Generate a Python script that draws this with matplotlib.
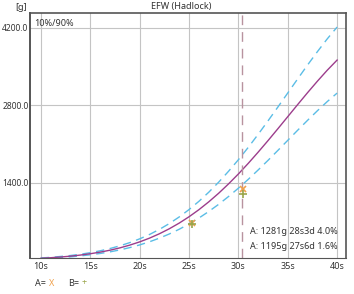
import matplotlib
matplotlib.use("Agg")
import matplotlib.pyplot as plt

plt.rcParams["font.family"] = ["Noto Sans", "DejaVu Sans"]

# gestational age (weeks) and Hadlock EFW curves [g]
weeks = list(range(10, 41))
p50 = [35, 45, 58, 73, 93, 117, 146, 181, 223, 273, 331, 399, 478, 568, 670, 785,
       913, 1055, 1210, 1379, 1559, 1751, 1953, 2162, 2377, 2595, 2813, 3028, 3236,
       3435, 3619]
p90 = [41, 52, 68, 85, 108, 136, 170, 211, 260, 318, 386, 465, 557, 662, 781, 915,
       1064, 1229, 1410, 1607, 1816, 2040, 2275, 2519, 2769, 3023, 3277, 3528, 3770,
       4002, 4216]
p10 = [29, 38, 48, 61, 78, 98, 122, 151, 186, 228, 276, 333, 399, 474, 559, 655,
       762, 881, 1010, 1151, 1302, 1462, 1631, 1805, 1985, 2167, 2349, 2528, 2702,
       2868, 3022]

exam_ga = 30.35
a_x = [25.3, 30.45]
a_y = [675, 1281]
b_x = [25.3, 30.45]
b_y = [650, 1195]

xticks = [10, 15, 20, 25, 30, 35, 40]
yticks = [1400, 2800, 4200]
notes = ["A: 1281g 28s3d 4.0%", "A: 1195g 27s6d 1.6%"]

fig = plt.figure(figsize=(3.54, 2.94), dpi=100)
ax = fig.add_axes([30 / 354, 36 / 294, 316 / 354, 245 / 294])

ax.plot(weeks, p90, color="#5bbde6", lw=1.0, dashes=(6, 4))
ax.plot(weeks, p10, color="#5bbde6", lw=1.0, dashes=(6, 4))
ax.plot(weeks, p50, color="#9c3d8c", lw=1.0)
ax.axvline(exam_ga, color="#b8939f", lw=1.0, dashes=(7, 5))
ax.plot(a_x, a_y, "x", color="#f0a04b", ms=5, mew=1.2)
ax.plot(b_x, b_y, "+", color="#9aa54a", ms=6, mew=1.2)

ax.set_xlim(8.9, 40.9)
ax.set_ylim(40, 4470)
ax.set_xticks(xticks)
ax.set_xticklabels([f"{w}s" for w in xticks])
ax.set_yticks(yticks)
ax.set_yticklabels([f"{v:.1f}" for v in yticks])
ax.tick_params(length=0, labelsize=6.5, colors="#333333")
ax.tick_params(axis="x", pad=3)
ax.tick_params(axis="y", pad=1, labelsize=6.1)
ax.grid(color="#c4c4c4", lw=0.8)
ax.set_axisbelow(True)
for side in ["left", "bottom", "top", "right"]:
    ax.spines[side].set_color("#555555")
ax.spines["left"].set_linewidth(1.4)
ax.spines["top"].set_linewidth(1.2)
ax.spines["right"].set_linewidth(1.2)

ax.text(0.012, 0.975, "10%/90%", transform=ax.transAxes, fontsize=6.5,
        va="top", ha="left", color="#333333")
for i, s in enumerate(notes):
    ax.text(0.975, 0.11 - i * 0.062, s, transform=ax.transAxes, fontsize=6.5,
            ha="right", va="center", color="#333333")

fig.text(181 / 354, 1 - 7 / 294, "EFW (Hadlock)", fontsize=6.5, ha="center",
         va="center", color="#333333")
fig.text(21 / 354, 1 - 8 / 294, "[g]", fontsize=6.5, ha="center", va="center",
         color="#333333")

y_leg = 1 - 283 / 294
fig.text(35 / 354, y_leg, "A=", fontsize=6.5, va="center", color="#333333")
fig.text(49 / 354, y_leg, "X", fontsize=6.5, va="center", color="#f0a04b")
fig.text(68 / 354, y_leg, "B=", fontsize=6.5, va="center", color="#333333")
fig.text(82 / 354, y_leg, "+", fontsize=6.5, va="center", color="#9aa54a")

fig.savefig("out.png", dpi=100)
